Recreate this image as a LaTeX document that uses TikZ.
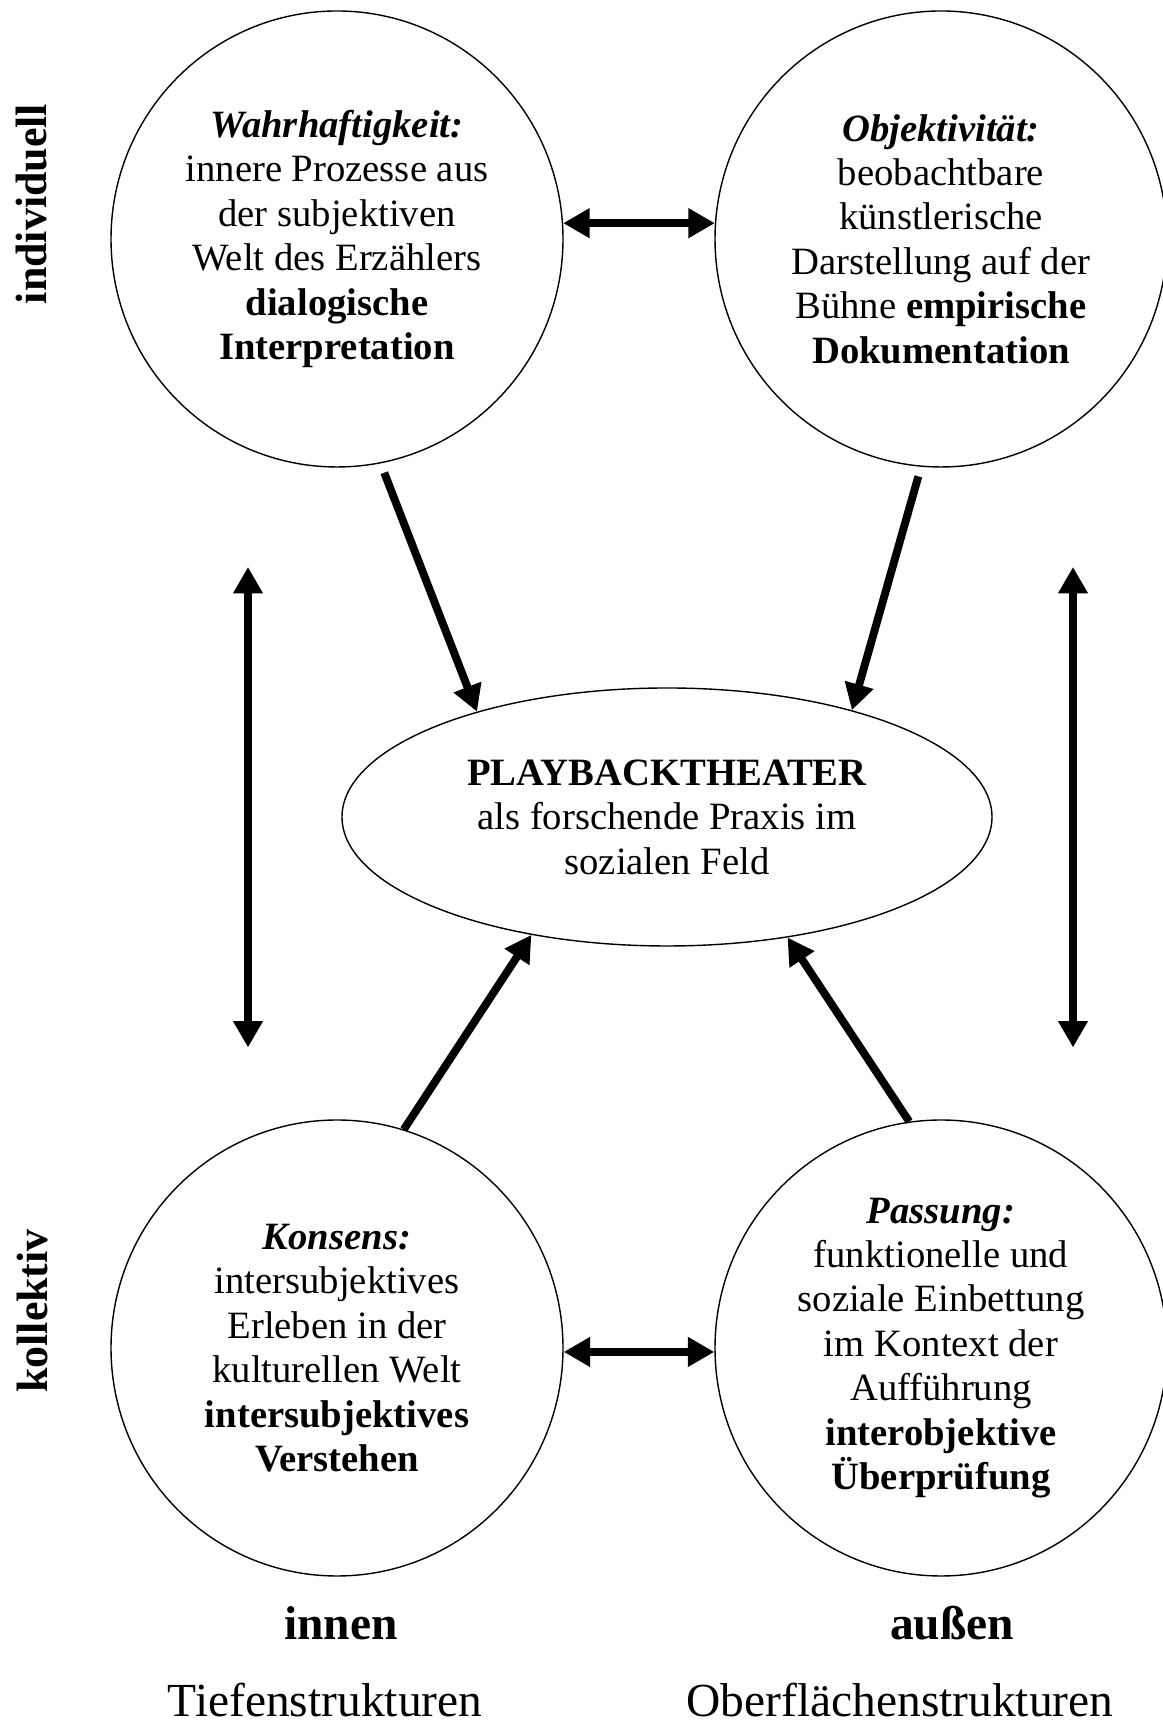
\documentclass[tikz,border=0pt]{standalone}
\usepackage{fontspec}
\setmainfont{Liberation Serif}
\usetikzlibrary{shapes.geometric,arrows.meta}

\begin{document}
\begin{tikzpicture}[
	kreis/.style={draw, ellipse, line width=0.8pt, minimum width=9.04cm, minimum height=9.12cm,
		inner sep=0pt, align=center, font=\fontsize{22}{25.3}\selectfont},
	mitte/.style={draw, ellipse, line width=0.8pt, minimum width=13cm, minimum height=5.16cm,
		inner sep=0pt, align=center, font=\fontsize{22}{25.3}\selectfont},
	pfeil/.style={line width=4.5pt, -{Triangle[length=15pt,width=16pt]}},
	doppel/.style={line width=4.5pt, {Triangle[length=15pt,width=16pt]}-{Triangle[length=15pt,width=16pt]}},
	achse/.style={font=\fontsize{25}{29}\selectfont\bfseries, rotate=90},
	unten/.style={font=\fontsize{27}{31}\selectfont}]
	\useasboundingbox (0,0) rectangle (23.24,34.5);

	% die vier Kreise
	\node[kreis] (wahr) at (6.74,29.72) {\textbf{\textit{Wahrhaftigkeit:}}\\ innere Prozesse aus\\ der subjektiven\\
		Welt des Erzählers\\ \textbf{dialogische}\\ \textbf{Interpretation}};
	\node[kreis] (obj) at (18.82,29.72) {\textbf{\textit{Objektivität:}}\\ beobachtbare\\ künstlerische\\
		Darstellung auf der\\ Bühne \textbf{empirische}\\ \textbf{Dokumentation}};
	\node[kreis] (kons) at (6.74,7.54) {\textbf{\textit{Konsens:}}\\ intersubjektives\\ Erleben in der\\
		kulturellen Welt\\ \textbf{intersubjektives}\\ \textbf{Verstehen}};
	\node[kreis] (pass) at (18.82,7.54) {\textbf{\textit{Passung:}}\\ funktionelle und\\ soziale Einbettung\\
		im Kontext der\\ Aufführung\\ \textbf{interobjektive}\\ \textbf{Überprüfung}};

	% Mitte
	\node[mitte] (pbt) at (13.34,18.16) {\textbf{PLAYBACKTHEATER}\\ als forschende Praxis im\\ sozialen Feld};

	% Beschriftung
	\node[achse] (indiv) at (0.64,30.42) {individuell};
	\node[achse] (koll) at (0.64,8.28) {kollektiv};
	\node[unten] (innen) at (6.82,2.04) {\textbf{innen}};
	\node[unten] (aussen) at (19.04,2.04) {\textbf{außen}};
	\node[unten] (tief) at (6.5,0.5) {Tiefenstrukturen};
	\node[unten] (ober) at (18.0,0.5) {Oberflächenstrukturen};

	\coordinate (lo) at (4.96,23.16);
	\coordinate (lu) at (4.96,13.55);
	\coordinate (ro) at (21.46,23.16);
	\coordinate (ru) at (21.46,13.55);

	% Pfeile
	\draw[doppel] (wahr.4) -- (obj.176);
	\draw[doppel] (kons.-1) -- (pass.181);
	\draw[doppel] (lo) -- (lu);
	\draw[doppel] (ro) -- (ru);
	\draw[pfeil, shorten <=0.2cm] (wahr.-79) -- (pbt.151);
	\draw[pfeil, shorten <=0.2cm] (obj.-95) -- (pbt.30.7);
	\draw[pfeil] (kons.73) -- (pbt.221.6);
	\draw[pfeil] (pass.98) -- (pbt.-45);
\end{tikzpicture}
\end{document}
